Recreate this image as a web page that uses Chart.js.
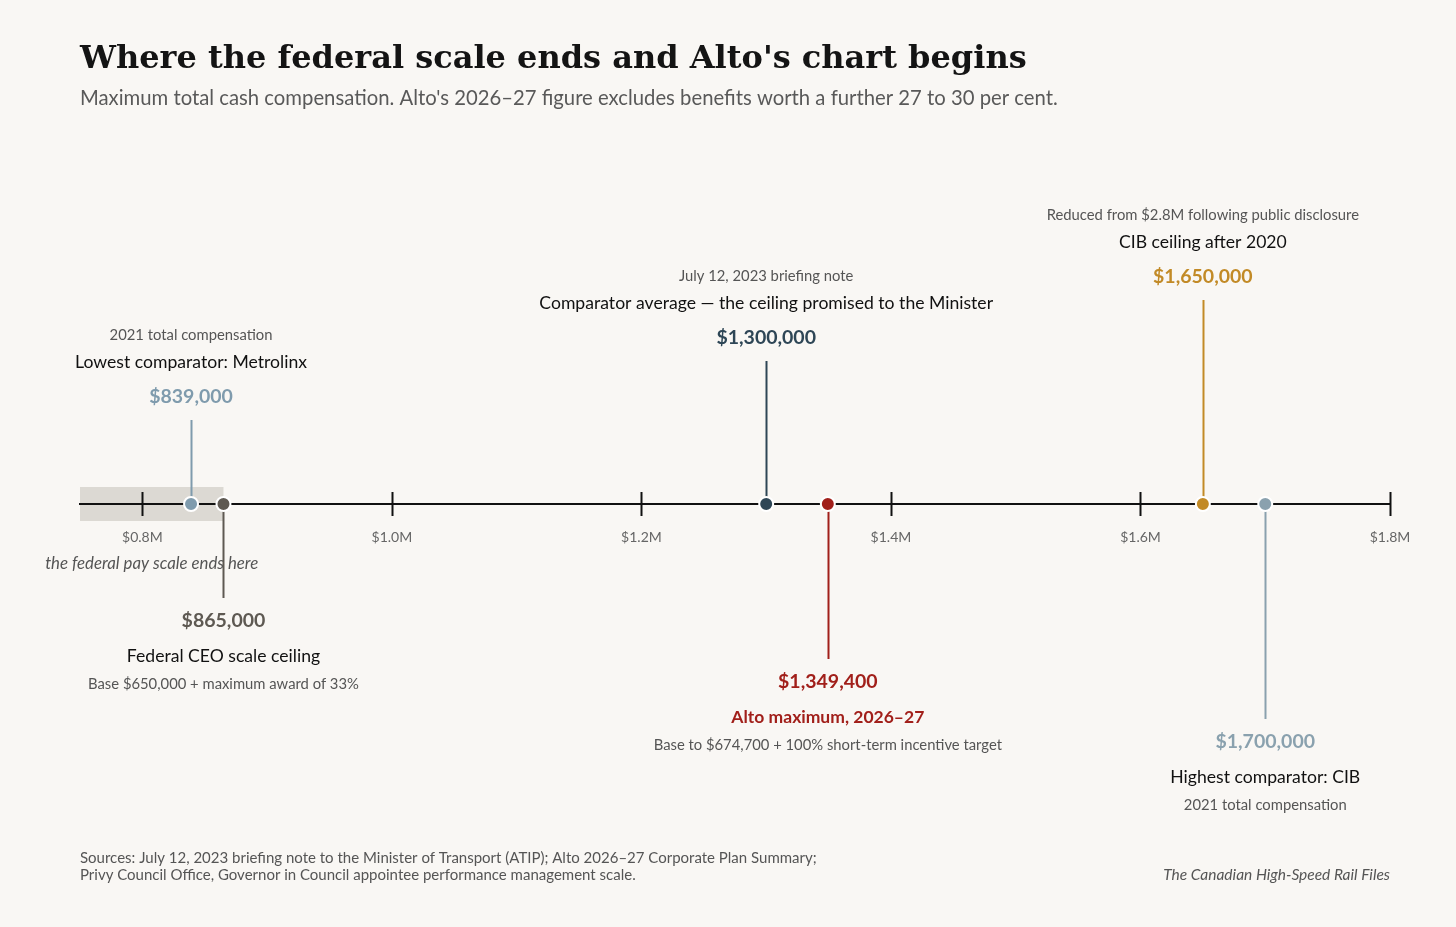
<!DOCTYPE html>
<html>
<head>
<meta charset="utf-8">
<script src="https://cdn.jsdelivr.net/npm/chart.js@4/dist/chart.umd.min.js"></script>
<style>
  html, body { margin: 0; padding: 0; background: #f9f7f4; }
  #wrap { width: 1456px; height: 927px; position: relative; }
</style>
</head>
<body>
<div id="wrap"><canvas id="chart"></canvas></div>
<script>
// chart data
const names = [
  'Lowest comparator: Metrolinx',
  'Federal CEO scale ceiling',
  'Comparator average \u2014 the ceiling promised to the Minister',
  'Alto maximum, 2026\u201327',
  'CIB ceiling after 2020',
  'Highest comparator: CIB'
];
const values = [839000, 865000, 1300000, 1349400, 1650000, 1700000];
const notes = [
  '2021 total compensation',
  'Base $650,000 + maximum award of 33%',
  'July 12, 2023 briefing note',
  'Base to $674,700 + 100% short-term incentive target',
  'Reduced from $2.8M following public disclosure',
  '2021 total compensation'
];
const tickValues = [800000, 1000000, 1200000, 1400000, 1600000, 1800000];
const axisMin = 750000;
const axisMax = 1800000;
const federalScaleTop = 865000;

// look of each marker (not data)
const colors = ['#7f9bad', '#5e5952', '#2e4656', '#a11f1a', '#c28a26', '#8aa1ae'];
const sides = ['up', 'down', 'up', 'down', 'up', 'down'];
const stemLen = [84, 94, 143, 155, 204, 215];

const fmtMoney = v => '$' + v.toLocaleString('en-US');
const SANS = 'Lato, "Open Sans", sans-serif';

const decorPlugin = {
  id: 'decor',
  beforeDraw(chart) {
    const { ctx, scales: { x, y } } = chart;
    ctx.save();
    ctx.fillStyle = '#f9f7f4';
    ctx.fillRect(0, 0, chart.width, chart.height);
    // federal pay scale band
    const y0 = y.getPixelForValue(0);
    const xl = x.getPixelForValue(axisMin);
    const xr = x.getPixelForValue(federalScaleTop);
    ctx.fillStyle = '#dcd9d3';
    ctx.fillRect(xl, y0 - 17, xr - xl, 34);
    ctx.restore();
  },
  beforeDatasetsDraw(chart) {
    const { ctx, scales: { x, y } } = chart;
    const y0 = y.getPixelForValue(0);
    ctx.save();
    // tick marks crossing the axis
    ctx.strokeStyle = '#111';
    ctx.lineWidth = 2;
    x.ticks.forEach(t => {
      const px = Math.round(x.getPixelForValue(t.value)) + 0.5;
      ctx.beginPath();
      ctx.moveTo(px, y0 - 12);
      ctx.lineTo(px, y0 + 12);
      ctx.stroke();
    });
    // stems
    values.forEach((v, i) => {
      const px = Math.round(x.getPixelForValue(v)) + 0.5;
      const dir = sides[i] === 'up' ? -1 : 1;
      ctx.strokeStyle = colors[i];
      ctx.lineWidth = 2;
      ctx.beginPath();
      ctx.moveTo(px, y0);
      ctx.lineTo(px, y0 + dir * stemLen[i]);
      ctx.stroke();
    });
    ctx.restore();
  },
  afterDraw(chart) {
    const { ctx, scales: { x, y } } = chart;
    const y0 = y.getPixelForValue(0);
    ctx.save();
    ctx.textBaseline = 'middle';

    // title block
    ctx.textAlign = 'left';
    ctx.fillStyle = '#141414';
    ctx.font = 'bold 32px "DejaVu Serif", serif';
    ctx.fillText("Where the federal scale ends and Alto's chart begins", 80, 60);
    ctx.fillStyle = '#595959';
    ctx.font = '20.3px ' + SANS;
    ctx.fillText("Maximum total cash compensation. Alto's 2026\u201327 figure excludes benefits worth a further 27 to 30 per cent.", 80, 98);

    // annotations
    ctx.textAlign = 'center';
    values.forEach((v, i) => {
      const px = x.getPixelForValue(v);
      const up = sides[i] === 'up';
      const end = y0 + (up ? -1 : 1) * stemLen[i];
      const vy = end + (up ? -23 : 23);
      const ty = up ? vy - 35 : vy + 35;
      const ny = up ? ty - 27 : ty + 28;
      ctx.fillStyle = colors[i];
      ctx.font = 'bold 19.5px ' + SANS;
      ctx.fillText(fmtMoney(v), px, vy);
      if (i === 3) {
        ctx.fillStyle = colors[i];
        ctx.font = 'bold 17.5px ' + SANS;
      } else {
        ctx.fillStyle = '#111';
        ctx.font = '17.6px ' + SANS;
      }
      ctx.fillText(names[i], px, ty);
      ctx.fillStyle = '#555';
      ctx.font = '14.8px ' + SANS;
      ctx.fillText(notes[i], px, ny);
    });

    // band caption
    const bandMid = (x.getPixelForValue(axisMin) + x.getPixelForValue(federalScaleTop)) / 2;
    ctx.fillStyle = '#555';
    ctx.font = 'italic 16.8px ' + SANS;
    ctx.fillText('the federal pay scale ends here', bandMid, 564);

    // footer
    ctx.textAlign = 'left';
    ctx.font = '15px ' + SANS;
    ctx.fillStyle = '#555';
    ctx.fillText('Sources: July 12, 2023 briefing note to the Minister of Transport (ATIP); Alto 2026\u201327 Corporate Plan Summary;', 80, 858);
    ctx.fillText('Privy Council Office, Governor in Council appointee performance management scale.', 80, 875);
    ctx.textAlign = 'right';
    ctx.font = 'italic 15.5px ' + SANS;
    ctx.fillText('The Canadian High-Speed Rail Files', 1390, 875);
    ctx.restore();
  }
};

const ctx = document.getElementById('chart').getContext('2d');
new Chart(ctx, {
  type: 'scatter',
  data: {
    datasets: [{
      data: values.map(v => ({ x: v, y: 0 })),
      pointRadius: 7,
      pointHoverRadius: 7,
      pointBackgroundColor: colors,
      pointBorderColor: '#ffffff',
      pointBorderWidth: 2
    }]
  },
  options: {
    responsive: true,
    maintainAspectRatio: false,
    animation: false,
    events: [],
    layout: {
      padding: { left: 80, right: 66, top: 404, bottom: 323 }
    },
    plugins: {
      legend: { display: false },
      tooltip: { enabled: false }
    },
    scales: {
      x: {
        type: 'linear',
        position: { y: 0 },
        min: axisMin,
        max: axisMax,
        afterBuildTicks: scale => {
          scale.ticks = tickValues.map(v => ({ value: v }));
        },
        grid: { display: false, drawTicks: false },
        border: { display: true, color: '#111', width: 2 },
        ticks: {
          padding: 25,
          color: '#666',
          font: { family: SANS, size: 14 },
          callback: v => '$' + (v / 1e6).toFixed(1) + 'M'
        }
      },
      y: {
        display: false,
        min: -1,
        max: 1
      }
    }
  },
  plugins: [decorPlugin]
});
</script>
</body>
</html>
